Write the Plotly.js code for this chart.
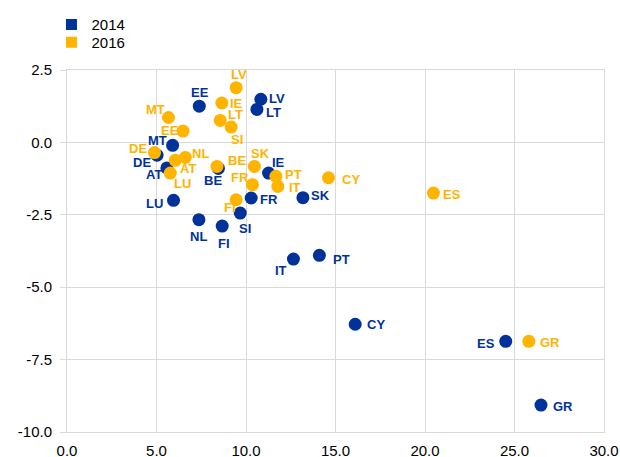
<!DOCTYPE html>
<html>
<head>
<meta charset="utf-8">
<script src="https://cdn.plot.ly/plotly-3.0.1.min.js"></script>
<style>html,body{margin:0;padding:0;background:#fff;}#chart{width:620px;height:457px;}</style>
</head>
<body>
<div id="chart"></div>
<script>
// ---- data ----
var countries2014 = ["EE","LV","LT","MT","DE","AT","BE","IE","FR","SK","LU","SI","NL","FI","IT","PT","CY","ES","GR"];
var x2014 = [7.39,10.83,10.61,5.90,5.03,5.58,8.46,11.26,10.29,13.18,5.95,9.68,7.37,8.67,12.65,14.10,16.10,24.51,26.48];
var y2014 = [1.25,1.49,1.14,-0.10,-0.44,-0.88,-0.90,-1.06,-1.92,-1.91,-2.00,-2.44,-2.67,-2.89,-4.03,-3.90,-6.28,-6.87,-9.07];

var countries2016 = ["LV","IE","LT","SI","MT","EE","DE","NL","AT","LU","BE","SK","PT","IT","FR","FI","CY","ES","GR"];
var x2016 = [9.45,8.65,8.56,9.17,5.67,6.48,4.89,6.61,6.05,5.77,8.38,10.47,11.67,11.78,10.36,9.45,14.61,20.47,25.80];
var y2016 = [1.89,1.36,0.76,0.53,0.86,0.39,-0.35,-0.52,-0.62,-1.06,-0.83,-0.83,-1.17,-1.52,-1.46,-1.98,-1.22,-1.75,-6.87];

var seriesNames = ["2014","2016"];
var xTickVals = [0,5,10,15,20,25,30];
var xTickText = ["0.0","5.0","10.0","15.0","20.0","25.0","30.0"];
var yTickVals = [2.5,0,-2.5,-5,-7.5,-10];
var yTickText = ["2.5","0.0","-2.5","-5.0","-7.5","-10.0"];

// ---- styling ----
var BLUE = "#003299", ORANGE = "#FFB400";
var FONT = "Liberation Sans, Arial, sans-serif";
// label offsets in pixels (dx right, dy down) relative to marker centre
var labelOffsets2014 = {
  EE:[1,-14], LV:[16,-1], LT:[17,3], MT:[-15,-5], DE:[-15,7], AT:[-13,7], BE:[-5,12],
  IE:[10,-11], FR:[18,1], SK:[18,-2], LU:[-19,3], SI:[5,15], NL:[0,17], FI:[2,17],
  IT:[-12,11], PT:[22,4], CY:[21,0], ES:[-20,2], GR:[22,1]
};
var labelOffsets2016 = {
  LV:[3,-13], IE:[15,0], LT:[15,-6], SI:[6,12], MT:[-13,-8], EE:[-13,-1], DE:[-17,-4],
  NL:[15,-4], AT:[13,8], LU:[12,10], BE:[20,-6], SK:[6,-13], PT:[18,-2], IT:[17,1],
  FR:[-12,-7], FI:[-6,8], CY:[22,2], ES:[19,1], GR:[21,1]
};

function makeAnnotations(names, xs, ys, offs, color) {
  return names.map(function (n, i) {
    var o = offs[n] || [12, 0];
    return {
      x: xs[i], y: ys[i], text: n, showarrow: false,
      xanchor: "center", yanchor: "middle",
      xshift: o[0], yshift: -o[1],
      font: {family: FONT, size: 13, color: color, weight: "bold"}
    };
  });
}

var traces = [
  {x: x2014, y: y2014, text: countries2014, type: "scatter", mode: "markers",
   marker: {color: BLUE, size: 13}, showlegend: false, hoverinfo: "text+x+y"},
  {x: x2016, y: y2016, text: countries2016, type: "scatter", mode: "markers",
   marker: {color: ORANGE, size: 13}, showlegend: false, hoverinfo: "text+x+y"},
  {x: [null], y: [null], type: "scatter", mode: "markers", name: seriesNames[0],
   marker: {color: BLUE, size: 11, symbol: "square"}, legend: "legend"},
  {x: [null], y: [null], type: "scatter", mode: "markers", name: seriesNames[1],
   marker: {color: ORANGE, size: 11, symbol: "square"}, legend: "legend2"}
];

var annotations = makeAnnotations(countries2014, x2014, y2014, labelOffsets2014, BLUE)
  .concat(makeAnnotations(countries2016, x2016, y2016, labelOffsets2016, ORANGE));

var legendFont = {family: FONT, size: 15, color: "#000"};
var layout = {
  width: 620, height: 457,
  margin: {l: 67, r: 16, t: 70, b: 25, pad: 0, autoexpand: false},
  paper_bgcolor: "#fff", plot_bgcolor: "#fff",
  font: {family: FONT, size: 15, color: "#000"},
  showlegend: true,
  legend: {x: 0.083, y: 0.946, xref: "container", yref: "container",
           xanchor: "left", yanchor: "middle",
           font: legendFont, bgcolor: "rgba(0,0,0,0)"},
  legend2: {x: 0.083, y: 0.907, xref: "container", yref: "container",
           xanchor: "left", yanchor: "middle",
           font: legendFont, bgcolor: "rgba(0,0,0,0)"},
  xaxis: {range: [0, 30], tickvals: xTickVals, ticktext: xTickText,
          showgrid: true, gridcolor: "#d9d9d9", gridwidth: 1, zeroline: false,
          showline: true, linecolor: "#d9d9d9", linewidth: 1, mirror: true,
          ticks: "", ticklabelstandoff: 5, tickfont: {family: FONT, size: 15, color: "#000"}},
  yaxis: {range: [-10, 2.5], tickvals: yTickVals, ticktext: yTickText,
          showgrid: true, gridcolor: "#d9d9d9", gridwidth: 1, zeroline: false,
          showline: true, linecolor: "#d9d9d9", linewidth: 1, mirror: true,
          ticks: "outside", ticklen: 6, tickcolor: "#d9d9d9", ticklabelstandoff: 5,
          tickfont: {family: FONT, size: 15, color: "#000"}},
  annotations: annotations
};

Plotly.newPlot("chart", traces, layout, {displayModeBar: false, staticPlot: true});
</script>
</body>
</html>
